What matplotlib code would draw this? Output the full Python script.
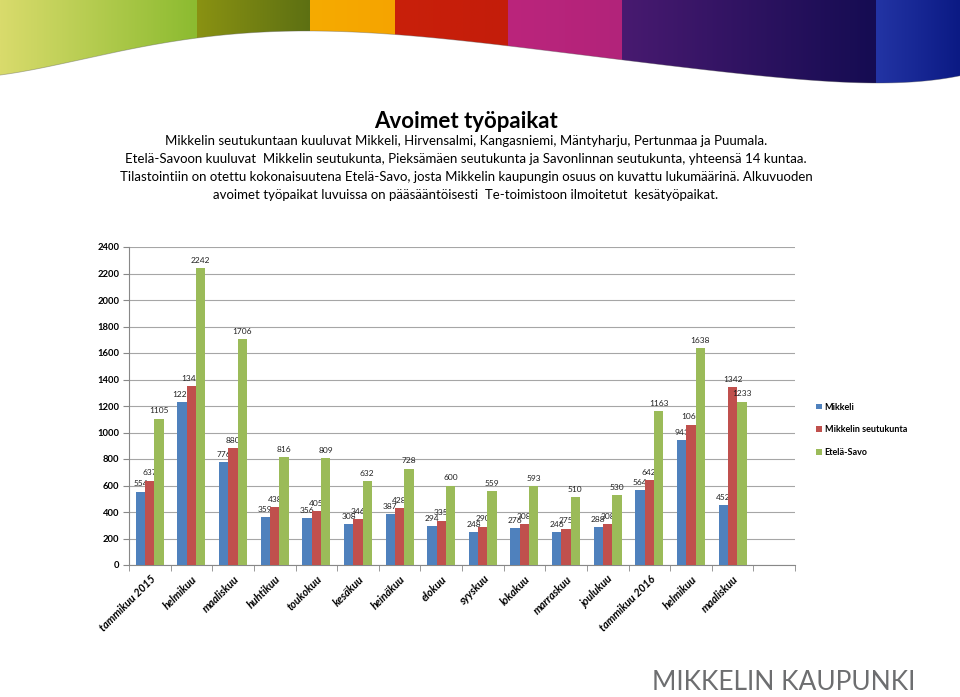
import numpy as np
import matplotlib.pyplot as plt
from matplotlib.patches import Polygon
from matplotlib.colors import LinearSegmentedColormap

plt.rcParams['font.family'] = ['Lato', 'DejaVu Sans']

# ================= Data =================
months = ['tammikuu 2015', 'helmikuu', 'maaliskuu', 'huhtikuu', 'toukokuu',
          'kesäkuu', 'heinäkuu', 'elokuu', 'syyskuu', 'lokakuu', 'marraskuu',
          'joulukuu', 'tammikuu 2016', 'helmikuu', 'maaliskuu']
mikkeli = [554, 1229, 776, 359, 356, 308, 387, 294, 248, 276, 246, 288, 564, 941, 452]
seutukunta = [637, 1349, 880, 438, 405, 346, 428, 335, 290, 308, 275, 308, 642, 1060, 1342]
etela_savo = [1105, 2242, 1706, 816, 809, 632, 728, 600, 559, 593, 510, 530, 1163, 1638, 1233]
series_names = ['Mikkeli', 'Mikkelin seutukunta', 'Etelä-Savo']
colors = ['#4f81bd', '#c0504d', '#9bbb59']

title = 'Avoimet työpaikat'
subtitle = ['Mikkelin seutukuntaan kuuluvat Mikkeli, Hirvensalmi, Kangasniemi, Mäntyharju, Pertunmaa ja Puumala.',
            'Etelä-Savoon kuuluvat  Mikkelin seutukunta, Pieksämäen seutukunta ja Savonlinnan seutukunta, yhteensä 14 kuntaa.',
            'Tilastointiin on otettu kokonaisuutena Etelä-Savo, josta Mikkelin kaupungin osuus on kuvattu lukumäärinä. Alkuvuoden',
            'avoimet työpaikat luvuissa on pääsääntöisesti  Te-toimistoon ilmoitetut  kesätyöpaikat.']

fig = plt.figure(figsize=(9.6, 6.97), dpi=100)

# ================= Header banner (coloured stripes with wave edge) =================
bg = fig.add_axes([0, 0, 1, 1], zorder=0)
wave_pts_x = [0, 100, 197, 310, 395, 508, 620, 700, 800, 876, 960]
wave_pts_y = [75, 56, 37, 32, 34, 46, 60, 68, 81, 82, 76]
# smooth decorative edge
coef = np.polyfit(np.array(wave_pts_x) / 960, wave_pts_y, 6)
wx = np.linspace(0, 960, 200)
wy = np.polyval(coef, wx / 960)
clip = Polygon(list(zip(wx, wy)) + [(960, 0), (0, 0)], closed=True,
               facecolor='none', edgecolor='none', transform=bg.transData)
bg.add_patch(clip)
stripes = [(0, 197, '#d9db6c', '#8cbb30'),
           (197, 310, '#8a9212', '#5d7012'),
           (310, 395, '#f6ab00', '#f5a400'),
           (395, 508, '#c9200a', '#c41d0a'),
           (508, 622, '#bb257c', '#b2237a'),
           (622, 876, '#481a70', '#150c52'),
           (876, 960, '#2334a4', '#0b1a84')]
grad = np.linspace(0, 1, 128)[None, :]
for x0, x1, c0, c1 in stripes:
    cmap = LinearSegmentedColormap.from_list('s', [c0, c1])
    im = bg.imshow(grad, cmap=cmap, extent=(x0, x1, 100, 0), aspect='auto')
    im.set_clip_path(clip)
bg.plot(wx, wy, color='#555555', linewidth=0.6, alpha=0.4)
bg.set_xlim(0, 960)
bg.set_ylim(697, 0)
bg.axis('off')

# ================= Titles =================
fig.text(466 / 960, 1 - 121 / 697, title, ha='center', va='center',
         fontsize=16, fontweight='bold')
for i, line in enumerate(subtitle):
    fig.text(466 / 960, 1 - (141 + 18 * i) / 697, line, ha='center', va='center',
             fontsize=9.5)

# ================= Bar chart =================
ax = fig.add_axes([129 / 960, 1 - 565 / 697, 666 / 960, 318 / 697])
x = np.arange(len(months))
w = 0.224
for k, (vals, name, col) in enumerate(zip([mikkeli, seutukunta, etela_savo],
                                          series_names, colors)):
    pos = x + (k - 1) * w
    ax.bar(pos, vals, width=w, color=col, label=name, zorder=3)
    for p, v in zip(pos, vals):
        ax.annotate(str(v), xy=(p, v), xytext=(0, 3), textcoords='offset points',
                    ha='center', va='bottom', fontsize=6, color='#222222')

ax.set_xlim(-0.5, len(months) + 0.5)
ax.set_ylim(0, 2400)
ax.set_yticks(np.arange(0, 2401, 200))
ax.set_xticks(x)
ax.set_xticklabels(months, rotation=45, ha='right', rotation_mode='anchor',
                   fontsize=7.8, fontweight='bold', fontstyle='italic')
ax.set_xticks(np.arange(-0.5, len(months) + 1), minor=True)
ax.tick_params(axis='x', which='major', length=0, pad=6)
ax.tick_params(axis='x', which='minor', length=4, color='#888888', direction='out')
ax.tick_params(axis='y', length=4, color='#888888', labelsize=6.8, pad=3)
for lab in ax.get_yticklabels():
    lab.set_fontweight('bold')
ax.grid(axis='y', color='#a6a6a6', linewidth=0.8, zorder=0)
for s in ['top', 'right']:
    ax.spines[s].set_visible(False)
for s in ['left', 'bottom']:
    ax.spines[s].set_color('#888888')
    ax.spines[s].set_linewidth(0.8)

leg = ax.legend(loc='center left', bbox_to_anchor=(1.02, 0.425), frameon=False,
                handlelength=0.6, handleheight=0.6, handletextpad=0.3,
                labelspacing=1.5, prop={'size': 6.5, 'weight': 'bold'})

# ================= Logo text =================
fig.text(652 / 960, 1 - 683 / 697, 'MIKKELIN KAUPUNKI', ha='left', va='center',
         fontsize=19, color='#6d6e70')

fig.savefig('out.png', dpi=100)
